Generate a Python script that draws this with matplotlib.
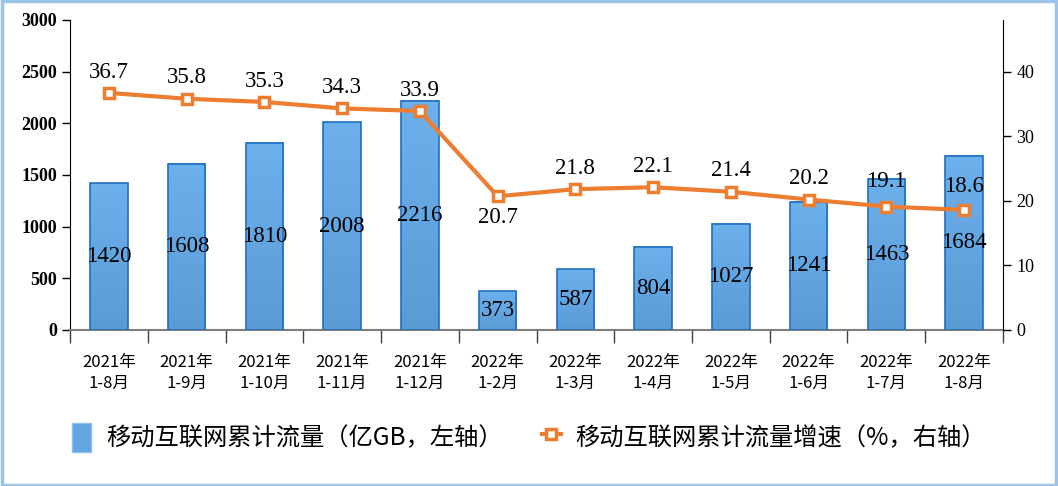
import matplotlib.pyplot as plt
import numpy as np
from matplotlib.patches import Rectangle
from matplotlib.lines import Line2D

labels = ['2021年\n1-8月', '2021年\n1-9月', '2021年\n1-10月', '2021年\n1-11月', '2021年\n1-12月',
          '2022年\n1-2月', '2022年\n1-3月', '2022年\n1-4月', '2022年\n1-5月', '2022年\n1-6月',
          '2022年\n1-7月', '2022年\n1-8月']
traffic = [1420, 1608, 1810, 2008, 2216, 373, 587, 804, 1027, 1241, 1463, 1684]
growth = [36.7, 35.8, 35.3, 34.3, 33.9, 20.7, 21.8, 22.1, 21.4, 20.2, 19.1, 18.6]
# 标签偏移（points，正值在点上方）
label_off = [15, 15, 15, 15, 15, -15, 15, 15, 15, 15, 18, 17]

cjk = ['Noto Sans CJK SC', 'DejaVu Sans']
serif = 'Liberation Serif'

fig = plt.figure(figsize=(10.58, 4.86), dpi=100)
fig.patches.append(Rectangle((0.002, 0.003), 0.996, 0.994, transform=fig.transFigure,
                             fill=False, edgecolor='#9dc3e6', linewidth=2.5))
ax = fig.add_axes([0.0662, 0.321, 0.8818, 0.638])
ax2 = ax.twinx()

x = np.arange(len(labels))
bw = 0.48
# 渐变柱
cmap = plt.matplotlib.colors.LinearSegmentedColormap.from_list('g', ['#5b9bd5', '#6cb0ec'])
grad = np.linspace(0, 1, 256).reshape(-1, 1)
bars = ax.bar(x, traffic, bw, color='none', edgecolor='#1f70c0', linewidth=1.2, zorder=3)
for b in bars:
    bx, by = b.get_x(), b.get_y()
    ax.imshow(grad, cmap=cmap, aspect='auto', origin='lower',
              extent=[bx, bx + b.get_width(), by, by + b.get_height()], zorder=2)
for xi, v in zip(x, traffic):
    ax.text(xi, v / 2, str(v), ha='center', va='center', fontsize=16.5,
            family=serif, zorder=5)

ax.set_xlim(-0.5, len(labels) - 0.5)
ax.set_ylim(0, 3000)
ax.set_yticks(range(0, 3001, 500))
ax.set_yticklabels([str(v) for v in range(0, 3001, 500)], family=serif,
                   fontweight='bold', fontsize=13)
ax.set_xticks(np.arange(-0.5, len(labels), 1.0))
ax.set_xticklabels([])
ax.set_xticks(x, minor=True)
ax.set_xticklabels(labels, minor=True, family=cjk, fontsize=12, linespacing=1.35)
ax.tick_params(axis='x', which='major', length=9, width=1, color='#404040')
ax.tick_params(axis='x', which='minor', length=0, pad=17)
ax.tick_params(axis='y', length=6, width=1)
ax.spines['top'].set_visible(False)
ax.spines['right'].set_visible(False)
ax.spines['bottom'].set_color('#7f7f7f')
ax.spines['bottom'].set_linewidth(1.5)

ax2.plot(x, growth, color='#ed7d31', linewidth=3, marker='s', markersize=7,
         markerfacecolor='white', markeredgecolor='#ed7d31', markeredgewidth=2.5, zorder=4)
for xi, v, off in zip(x, growth, label_off):
    ax2.annotate(f'{v}', (xi, v), xytext=(0, off), textcoords='offset points',
                 ha='center', va='center', fontsize=16.5, family=serif, zorder=6)
ax2.set_ylim(0, 48)
ax2.set_yticks(range(0, 41, 10))
ax2.set_yticklabels([str(v) for v in range(0, 41, 10)], family=serif, fontsize=13)
ax2.tick_params(axis='y', length=6, width=1)
ax2.spines['top'].set_visible(False)
ax2.spines['left'].set_visible(False)
ax2.spines['bottom'].set_visible(False)
ax.set_zorder(ax2.get_zorder() - 1)
ax.patch.set_visible(False)

handles = [Rectangle((0, 0), 1, 1, facecolor='#62a5e3', edgecolor='#8fc0ec'),
           Line2D([], [], color='#ed7d31', linewidth=3, marker='s', markersize=7,
                  markerfacecolor='white', markeredgecolor='#ed7d31', markeredgewidth=2.5)]
fig.legend(handles, ['移动互联网累计流量（亿GB，左轴）', '移动互联网累计流量增速（%，右轴）'],
           loc='center', bbox_to_anchor=(0.5, 0.1), ncol=2, frameon=False,
           prop={'family': cjk, 'size': 17.5}, handlelength=0.8, handleheight=1.5,
           columnspacing=1.6, handletextpad=0.6)

plt.savefig('out.png', dpi=100)
